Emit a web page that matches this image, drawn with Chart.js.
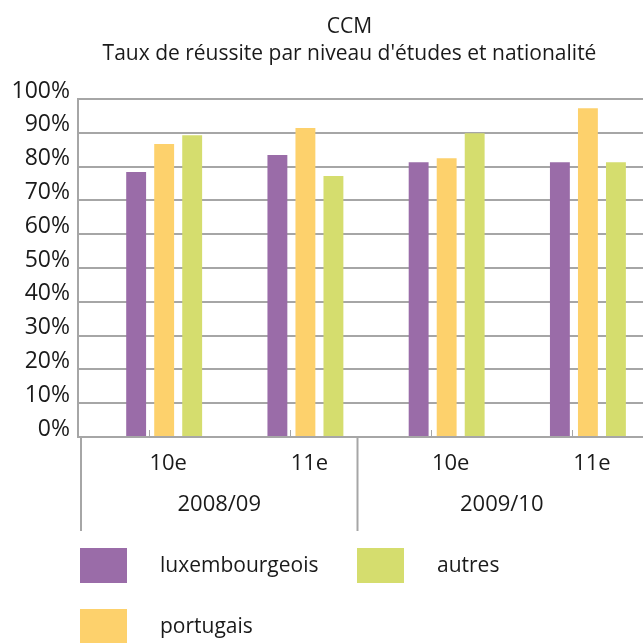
<!DOCTYPE html>
<html lang="fr">
<head>
    <meta charset="UTF-8">
    <title>CCM - Taux de réussite</title>
    <script src="https://cdn.jsdelivr.net/npm/chart.js"></script>
    <style>
        html, body { margin: 0; padding: 0; background: #fff; overflow: hidden; }
    </style>
</head>
<body>
    <canvas id="chart" width="643" height="643"></canvas>

    <script>
        // data
        const years = ['2008/09', '2009/10'];
        const levels = ['10e', '11e', '10e', '11e'];
        const luxembourgeois = [78.4, 83.4, 81.3, 81.3];
        const portugais = [86.7, 91.4, 82.5, 97.3];
        const autres = [89.3, 77.2, 89.9, 81.3];
        const yTicks = [0, 10, 20, 30, 40, 50, 60, 70, 80, 90, 100];

        const FONT = "'Open Sans', sans-serif";
        const TEXT = '#1a1a1a';
        const GRID = '#a6a6a6';
        // bars sit a little to the right of the category centre in the original
        const SHIFT = 0.11;

        function points(values) {
            return values.map((v, i) => ({ x: i, y: v }));
        }

        const datasets = [
            { label: 'luxembourgeois', data: points(luxembourgeois), backgroundColor: '#9a6ca8' },
            { label: 'portugais', data: points(portugais), backgroundColor: '#fdd16c' },
            { label: 'autres', data: points(autres), backgroundColor: '#d5dd6e' }
        ];

        const extras = {
            id: 'extras',
            afterDraw(chart) {
                const ctx = chart.ctx;
                const area = chart.chartArea;
                const x = chart.scales.x;
                const y0 = chart.scales.y.getPixelForValue(0);
                ctx.save();

                // title
                ctx.fillStyle = TEXT;
                ctx.textAlign = 'center';
                ctx.textBaseline = 'middle';
                ctx.font = '21px ' + FONT;
                const tx = (area.left + area.right) / 2 - 11;
                ctx.fillText('CCM', tx, 27);
                ctx.fillText("Taux de réussite par niveau d'études et nationalité", tx, 54);

                // small tick marks at category centres
                ctx.strokeStyle = GRID;
                ctx.lineWidth = 1;
                levels.forEach((l, i) => {
                    const px = Math.round(x.getPixelForValue(i - SHIFT)) + 0.5;
                    ctx.beginPath();
                    ctx.moveTo(px, y0 - 7);
                    ctx.lineTo(px, y0);
                    ctx.stroke();
                });

                // group separators under the axis
                ctx.lineWidth = 2;
                [area.left + 3, x.getPixelForValue(1.5 - SHIFT) - 3].forEach(px => {
                    ctx.beginPath();
                    ctx.moveTo(px, y0 + 1);
                    ctx.lineTo(px, y0 + 94);
                    ctx.stroke();
                });

                // category and group labels
                ctx.fillStyle = TEXT;
                ctx.font = '22px ' + FONT;
                levels.forEach((l, i) => {
                    ctx.fillText(l, x.getPixelForValue(i) + 4, y0 + 27);
                });
                years.forEach((yr, g) => {
                    const a = x.getPixelForValue(g * 2 - 0.5 - SHIFT);
                    const b = x.getPixelForValue(g * 2 + 1.5 - SHIFT);
                    ctx.fillText(yr, (a + b) / 2, y0 + 68);
                });

                // legend, filled column by column
                const cols = [80, 357];
                ctx.textAlign = 'left';
                ctx.font = '21px ' + FONT;
                datasets.forEach((ds, i) => {
                    const col = Math.floor(i / 2);
                    const row = i % 2;
                    const bx = cols[col];
                    const by = 548 + row * 61;
                    ctx.fillStyle = ds.backgroundColor;
                    ctx.fillRect(bx, by, 47, 35);
                    ctx.fillStyle = TEXT;
                    ctx.fillText(ds.label, bx + 80, by + 18);
                });

                ctx.restore();
            }
        };

        new Chart(document.getElementById('chart').getContext('2d'), {
            type: 'bar',
            data: { datasets: datasets },
            options: {
                responsive: false,
                animation: false,
                layout: { padding: { top: 99, right: 0, bottom: 206, left: 0 } },
                categoryPercentage: 0.595,
                barPercentage: 0.71,
                plugins: {
                    legend: { display: false },
                    tooltip: { enabled: false }
                },
                scales: {
                    x: {
                        type: 'linear',
                        display: false,
                        offset: false,
                        min: -0.5 - SHIFT,
                        max: 3.5 - SHIFT,
                        afterBuildTicks(scale) {
                            scale.ticks = levels.map((l, i) => ({ value: i }));
                        }
                    },
                    y: {
                        min: 0,
                        max: 100,
                        afterBuildTicks(scale) {
                            scale.ticks = yTicks.map(v => ({ value: v }));
                        },
                        afterFit(scale) {
                            scale.width = 78;
                        },
                        ticks: {
                            callback: v => v + '%',
                            color: TEXT,
                            padding: 8,
                            labelOffset: -8,
                            font: { family: FONT, size: 23 }
                        },
                        grid: {
                            color: GRID,
                            lineWidth: 2,
                            drawTicks: false
                        },
                        border: { color: GRID, width: 2 }
                    }
                }
            },
            plugins: [extras]
        });
    </script>
</body>
</html>
